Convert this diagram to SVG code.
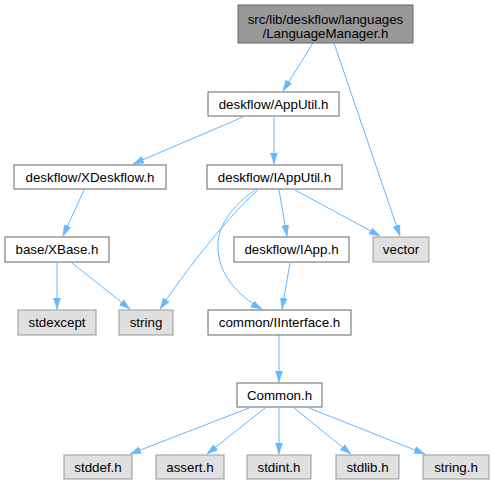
<svg xmlns="http://www.w3.org/2000/svg" width="493" height="485" viewBox="0 0 493 485">
<style>
.n rect{fill:#fff;stroke:#666;stroke-width:1}
.g rect{fill:#e0e0e0;stroke:#999;stroke-width:1}
.r rect{fill:#999;stroke:#666;stroke-width:1}
text{font-family:"Liberation Sans",Arial,sans-serif;font-size:13.33px;fill:#000;text-anchor:middle}
.e path{fill:none;stroke:#63b8ff;stroke-width:1;marker-end:url(#a)}
</style>
<defs>
<marker id="a" markerUnits="userSpaceOnUse" markerWidth="12" markerHeight="9" refX="11" refY="4" orient="auto">
<path d="M0,0.5 L11,4 L0,7.5 z" fill="#63b8ff" stroke="#63b8ff" stroke-width="0.5"/>
</marker>
</defs>
<rect width="493" height="485" fill="#fff"/>
<g class="e" id="edges">
<path d="M313,43 L283,91"/>
<path d="M334,43 L400,236"/>
<path d="M243,117 L133,164"/>
<path d="M274,117 L274,164"/>
<path d="M84,190 L63,236"/>
<path d="M258,190 C240,205 200,250 160,309"/>
<path d="M255,190 C234,205 216,225 218,250 C220,280 245,300 262,309"/>
<path d="M279,190 L287,236"/>
<path d="M295,190 L380,236"/>
<path d="M290,263 L282,309"/>
<path d="M57,263 L57,309"/>
<path d="M72,263 L130,309"/>
<path d="M279,335 L279,382"/>
<path d="M249,408 L130,454"/>
<path d="M265,408 L207,454"/>
<path d="M279,408 L279,454"/>
<path d="M294,408 L351,454"/>
<path d="M309,408 L425,454"/>
</g>
<g id="root" class="r"><rect x="238" y="5" width="175" height="38"/><text x="325.5" y="24">src/lib/deskflow/languages</text><text x="325.5" y="38">/LanguageManager.h</text></g>
<g id="apputil" class="n"><rect x="208" y="92" width="131" height="24"/><text x="273.5" y="108.5">deskflow/AppUtil.h</text></g>
<g id="xdeskflow" class="n"><rect x="14" y="165" width="152" height="24"/><text x="90" y="181.5">deskflow/XDeskflow.h</text></g>
<g id="iapputil" class="n"><rect x="207" y="165" width="135" height="24"/><text x="274.5" y="181.5">deskflow/IAppUtil.h</text></g>
<g id="xbase" class="n"><rect x="5" y="237" width="104" height="25"/><text x="57" y="254">base/XBase.h</text></g>
<g id="iapp" class="n"><rect x="234" y="237" width="115" height="25"/><text x="291.5" y="254">deskflow/IApp.h</text></g>
<g id="vector" class="g"><rect x="373" y="237" width="56" height="25"/><text x="401" y="254">vector</text></g>
<g id="stdexcept" class="g"><rect x="18" y="310" width="78" height="25"/><text x="57" y="327">stdexcept</text></g>
<g id="string" class="g"><rect x="119" y="310" width="54" height="25"/><text x="146" y="327">string</text></g>
<g id="iinterface" class="n"><rect x="208" y="310" width="143" height="25"/><text x="279.5" y="327">common/IInterface.h</text></g>
<g id="common" class="n"><rect x="237" y="383" width="85" height="24"/><text x="279.5" y="399.5">Common.h</text></g>
<g id="stddef" class="g"><rect x="64" y="455" width="68" height="24"/><text x="98" y="471.5">stddef.h</text></g>
<g id="assert" class="g"><rect x="156" y="455" width="68" height="24"/><text x="190" y="471.5">assert.h</text></g>
<g id="stdint" class="g"><rect x="247" y="455" width="64" height="24"/><text x="279" y="471.5">stdint.h</text></g>
<g id="stdlib" class="g"><rect x="336" y="455" width="63" height="24"/><text x="367.5" y="471.5">stdlib.h</text></g>
<g id="stringh" class="g"><rect x="423" y="455" width="66" height="24"/><text x="456" y="471.5">string.h</text></g>
</svg>
